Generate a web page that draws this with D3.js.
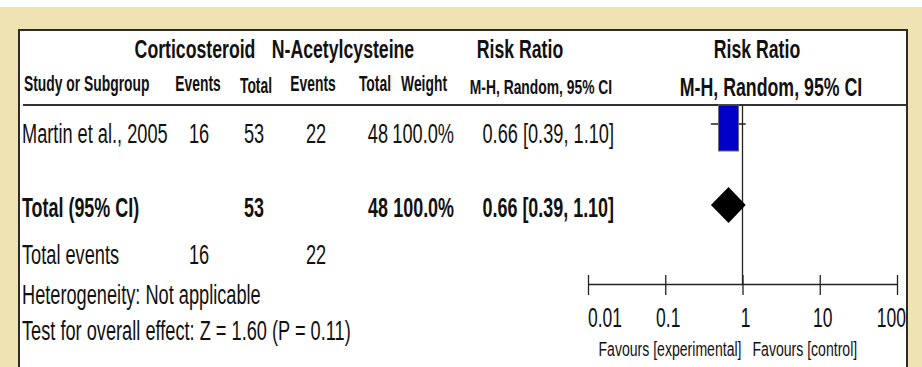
<!DOCTYPE html>
<html>
<head>
<meta charset="utf-8">
<script src="https://cdn.jsdelivr.net/npm/d3@7"></script>
<style>
  html, body { margin: 0; padding: 0; background: #fff; }
  svg { display: block; }
  text { font-family: "Liberation Sans", Arial, sans-serif; fill: #111; }
</style>
</head>
<body>
<svg id="chart" width="922" height="367"></svg>
<script>
// ---- data ----
const studies        = ["Martin et al., 2005"];
const expEvents      = [16];
const expTotals      = [53];
const ctrlEvents     = [22];
const ctrlTotals     = [48];
const weights        = [100.0];
const riskRatios     = [0.66];
const ciLower        = [0.39];
const ciUpper        = [1.10];

const pooledRR       = 0.66;
const pooledLower    = 0.39;
const pooledUpper    = 1.10;
const totalExp       = 53;
const totalCtrl      = 48;
const totalEventsExp = 16;
const totalEventsCtrl= 22;
const heterogeneity  = "Not applicable";
const zValue         = "1.60";
const pValue         = "0.11";

const tickValues     = [0.01, 0.1, 1, 10, 100];
const tickLabels     = ["0.01", "0.1", "1", "10", "100"];
const favourLabels   = ["Favours [experimental]", "Favours [control]"];

// ---- drawing ----
const svg = d3.select("#chart");
const W = 922, H = 367;

// page background and framed panel
svg.append("rect").attr("x", 0).attr("y", 7).attr("width", W).attr("height", H - 7).attr("fill", "#efe3b4");
svg.append("rect").attr("x", 19).attr("y", 30).attr("width", 888).attr("height", H).attr("fill", "#fff")
   .attr("stroke", "#2b2b2b").attr("stroke-width", 2);

// condensed text helper: size sets the height, k squeezes horizontally
function txt(str, x, y, o) {
  return svg.append("text")
    .attr("transform", `translate(${x},${y}) scale(${o.k},1)`)
    .attr("font-size", o.size)
    .attr("font-weight", o.bold ? "bold" : "normal")
    .attr("text-anchor", o.anchor || "start")
    .text(str);
}
const H1  = { size: 26, k: 0.68, bold: true };
const H2  = { size: 22, k: 0.63, bold: true };
const MHs = { size: 21, k: 0.66, bold: true };
const MHb = { size: 25, k: 0.71, bold: true };
const B   = { size: 28, k: 0.65 };
const BB  = { size: 28, k: 0.64, bold: true };
const TK  = { size: 28, k: 0.625 };
const FV  = { size: 21, k: 0.67 };
const at = (o, anchor) => Object.assign({}, o, { anchor });

// column header rows
txt("Corticosteroid",   195, 58, at(H1, "middle"));
txt("N-Acetylcysteine", 343, 58, at(H1, "middle"));
txt("Risk Ratio",       520, 58, at(H1, "middle"));
txt("Risk Ratio",       757, 58, at(H1, "middle"));

txt("Study or Subgroup", 24, 91, at(H2, "start"));
txt("Events", 198, 91, at(H2, "middle"));
txt("Total",  256, 93, at(H2, "middle"));
txt("Events", 313, 91, at(H2, "middle"));
txt("Total",  391, 91, at(H2, "end"));
txt("Weight", 447, 91, at(H2, "end"));
txt("M-H, Random, 95% CI", 541, 94, at(MHs, "middle"));
txt("M-H, Random, 95% CI", 771, 96, at(MHb, "middle"));

// header rule
svg.append("line").attr("x1", 23).attr("x2", 907).attr("y1", 105).attr("y2", 105)
   .attr("stroke", "#333").attr("stroke-width", 2);

// forest plot scale
const x = d3.scaleLog().domain([0.01, 100]).range([588, 897]);
const axisY = 284;

// line of no effect
svg.append("line").attr("x1", x(1)).attr("x2", x(1)).attr("y1", 105).attr("y2", axisY)
   .attr("stroke", "#222").attr("stroke-width", 1.3);

// study rows
const rowY = [143];
const ciY  = [124];
studies.forEach((s, i) => {
  const y = rowY[i];
  txt(s, 22, y, at(B, "start"));
  txt(String(expEvents[i]), 199, y, at(B, "middle"));
  txt(String(expTotals[i]), 254, y, at(B, "middle"));
  txt(String(ctrlEvents[i]), 316, y, at(B, "middle"));
  txt(String(ctrlTotals[i]), 388, y, at(B, "end"));
  txt(weights[i].toFixed(1) + "%", 454, y, at(B, "end"));
  txt(`${riskRatios[i].toFixed(2)} [${ciLower[i].toFixed(2)}, ${ciUpper[i].toFixed(2)}]`, 614, y, at(B, "end"));

  // confidence interval and weight box
  svg.append("line").attr("x1", x(ciLower[i])).attr("x2", x(ciUpper[i]))
     .attr("y1", ciY[i]).attr("y2", ciY[i]).attr("stroke", "#222").attr("stroke-width", 1.3);
  const half = 10 * Math.sqrt(weights[i] / 100);
  svg.append("rect").attr("x", x(riskRatios[i]) - half).attr("y", 105)
     .attr("width", 2 * half).attr("height", 46)
     .attr("fill", "#0000c8").attr("stroke", "#666").attr("stroke-width", 1);
});

// pooled row
const totY = 217;
txt("Total (95% CI)", 22, totY, at(BB, "start"));
txt(String(totalExp), 254, totY, at(BB, "middle"));
txt(String(totalCtrl), 388, totY, at(BB, "end"));
txt(d3.sum(weights).toFixed(1) + "%", 454, totY, at(BB, "end"));
txt(`${pooledRR.toFixed(2)} [${pooledLower.toFixed(2)}, ${pooledUpper.toFixed(2)}]`, 614, totY, at(BB, "end"));

const dY = 205, dH = 18;
svg.append("path")
   .attr("d", `M${x(pooledLower)},${dY} L${x(pooledRR)},${dY - dH} L${x(pooledUpper)},${dY} L${x(pooledRR)},${dY + dH} Z`)
   .attr("fill", "#000");

// footer lines
txt("Total events", 22, 264, at(B, "start"));
txt(String(totalEventsExp), 199, 264, at(B, "middle"));
txt(String(totalEventsCtrl), 316, 264, at(B, "middle"));
txt("Heterogeneity: " + heterogeneity, 22, 304, at(B, "start"));
txt(`Test for overall effect: Z = ${zValue} (P = ${pValue})`, 22, 340, at(B, "start"));

// axis
const axis = d3.axisBottom(x).tickValues(tickValues).tickFormat("").tickSizeOuter(0);
const ax = svg.append("g").attr("transform", `translate(0,${axisY})`).call(axis);
ax.select(".domain").attr("stroke", "#222").attr("stroke-width", 1.3);
ax.selectAll(".tick line").attr("y1", -9).attr("y2", 11).attr("stroke", "#222").attr("stroke-width", 1.3);

tickValues.forEach((v, i) => {
  const last = i === tickValues.length - 1;
  const anchor = i === 0 ? "start" : last ? "end" : "middle";
  const dx = i === 0 ? 0 : last ? 9 : 3;
  txt(tickLabels[i], x(v) + dx, 327, at(TK, anchor));
});
txt(favourLabels[0], x(1) - 1, 356, at(FV, "end"));
txt(favourLabels[1], x(1) + 10, 356, at(FV, "start"));
</script>
</body>
</html>
